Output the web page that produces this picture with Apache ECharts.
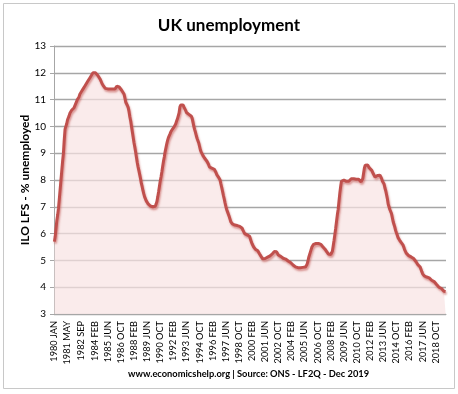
<!DOCTYPE html>
<html>
<head>
<meta charset="utf-8">
<script src="https://cdn.jsdelivr.net/npm/echarts@6/dist/echarts.min.js"></script>
<style>
html,body{margin:0;padding:0;background:#fff;}
#chart{width:458px;height:394px;}
</style>
</head>
<body>
<div id="chart"></div>
<script>
// Month names for category labels (1980 JAN .. 2019 OCT)
var monthNames = ['JAN','FEB','MAR','APR','MAY','JUN','JUL','AUG','SEP','OCT','NOV','DEC'];
var startYear = 1980;

// Unemployment rate (%), monthly, one row per year
var y1980 = [5.7, 5.9, 6.2, 6.5, 6.7, 6.95, 7.3, 7.65, 8.0, 8.35, 8.7, 9.0];
var y1981 = [9.5, 9.9, 10.0, 10.1, 10.25, 10.3, 10.4, 10.5, 10.55, 10.6, 10.6, 10.65];
var y1982 = [10.7, 10.75, 10.85, 10.9, 11.0, 11.05, 11.1, 11.2, 11.25, 11.3, 11.35, 11.4];
var y1983 = [11.45, 11.5, 11.55, 11.6, 11.65, 11.7, 11.75, 11.8, 11.85, 11.9, 11.95, 12.0];
var y1984 = [12.05, 12.05, 12.0, 11.98, 11.95, 11.9, 11.88, 11.85, 11.75, 11.7, 11.6, 11.55];
var y1985 = [11.5, 11.45, 11.42, 11.4, 11.4, 11.4, 11.4, 11.4, 11.4, 11.42, 11.4, 11.4];
var y1986 = [11.4, 11.42, 11.4, 11.45, 11.5, 11.55, 11.52, 11.47, 11.45, 11.4, 11.35, 11.3];
var y1987 = [11.28, 11.2, 11.05, 10.9, 10.85, 10.78, 10.7, 10.55, 10.35, 10.2, 10.0, 9.8];
var y1988 = [9.6, 9.4, 9.23, 9.05, 8.85, 8.65, 8.49, 8.35, 8.2, 8.05, 7.87, 7.75];
var y1989 = [7.6, 7.48, 7.37, 7.3, 7.22, 7.17, 7.12, 7.08, 7.05, 7.03, 7.0, 7.0];
var y1990 = [7.0, 7.0, 7.0, 7.02, 7.1, 7.2, 7.37, 7.55, 7.75, 7.95, 8.11, 8.3];
var y1991 = [8.5, 8.7, 8.86, 9.05, 9.2, 9.35, 9.48, 9.58, 9.65, 9.72, 9.8, 9.85];
var y1992 = [9.9, 9.95, 9.98, 10.0, 10.1, 10.2, 10.28, 10.35, 10.5, 10.72, 10.8, 10.85];
var y1993 = [10.85, 10.8, 10.72, 10.66, 10.6, 10.52, 10.48, 10.48, 10.45, 10.42, 10.41, 10.38];
var y1994 = [10.3, 10.15, 10.0, 9.88, 9.78, 9.65, 9.55, 9.48, 9.38, 9.25, 9.12, 9.04];
var y1995 = [8.98, 8.92, 8.88, 8.82, 8.78, 8.75, 8.7, 8.65, 8.58, 8.49, 8.45, 8.45];
var y1996 = [8.44, 8.43, 8.43, 8.4, 8.35, 8.28, 8.2, 8.15, 8.11, 8.05, 8.0, 7.85];
var y1997 = [7.72, 7.58, 7.43, 7.3, 7.15, 7.02, 6.9, 6.82, 6.75, 6.65, 6.55, 6.45];
var y1998 = [6.4, 6.36, 6.34, 6.32, 6.32, 6.33, 6.32, 6.3, 6.3, 6.28, 6.27, 6.25];
var y1999 = [6.25, 6.2, 6.12, 6.05, 6.0, 5.98, 5.96, 5.95, 5.94, 5.94, 5.9, 5.8];
var y2000 = [5.7, 5.62, 5.56, 5.5, 5.45, 5.42, 5.4, 5.38, 5.36, 5.3, 5.25, 5.2];
var y2001 = [5.15, 5.1, 5.06, 5.04, 5.05, 5.07, 5.08, 5.1, 5.12, 5.13, 5.15, 5.17];
var y2002 = [5.2, 5.22, 5.25, 5.28, 5.33, 5.36, 5.38, 5.32, 5.25, 5.2, 5.19, 5.17];
var y2003 = [5.15, 5.12, 5.1, 5.08, 5.07, 5.07, 5.05, 5.03, 5.0, 4.98, 4.96, 4.94];
var y2004 = [4.92, 4.9, 4.86, 4.83, 4.8, 4.78, 4.76, 4.75, 4.74, 4.73, 4.73, 4.73];
var y2005 = [4.73, 4.72, 4.73, 4.74, 4.75, 4.76, 4.75, 4.78, 4.85, 4.95, 5.1, 5.2];
var y2006 = [5.3, 5.4, 5.5, 5.55, 5.6, 5.62, 5.62, 5.63, 5.62, 5.62, 5.63, 5.62];
var y2007 = [5.62, 5.6, 5.56, 5.52, 5.48, 5.45, 5.42, 5.38, 5.33, 5.28, 5.24, 5.22];
var y2008 = [5.2, 5.22, 5.25, 5.35, 5.55, 5.75, 5.97, 6.2, 6.45, 6.7, 6.9, 7.2];
var y2009 = [7.5, 7.75, 7.95, 7.98, 8.0, 8.0, 8.0, 7.97, 7.95, 7.95, 7.93, 7.95];
var y2010 = [7.98, 8.02, 8.05, 8.07, 8.07, 8.05, 8.04, 8.05, 8.03, 8.02, 8.03, 8.03];
var y2011 = [8.0, 7.96, 7.93, 7.93, 8.05, 8.25, 8.45, 8.55, 8.61, 8.61, 8.56, 8.5];
var y2012 = [8.45, 8.42, 8.38, 8.36, 8.3, 8.22, 8.15, 8.11, 8.12, 8.15, 8.17, 8.18];
var y2013 = [8.18, 8.18, 8.15, 8.05, 7.95, 7.93, 7.85, 7.7, 7.6, 7.45, 7.3, 7.1];
var y2014 = [7.0, 6.9, 6.9, 6.75, 6.6, 6.45, 6.35, 6.25, 6.12, 6.03, 5.95, 5.85];
var y2015 = [5.81, 5.75, 5.7, 5.66, 5.65, 5.58, 5.5, 5.4, 5.33, 5.27, 5.22, 5.2];
var y2016 = [5.18, 5.15, 5.14, 5.13, 5.13, 5.1, 5.07, 5.05, 5.0, 4.95, 4.9, 4.85];
var y2017 = [4.8, 4.78, 4.75, 4.68, 4.58, 4.5, 4.44, 4.42, 4.4, 4.4, 4.38, 4.38];
var y2018 = [4.38, 4.35, 4.32, 4.28, 4.26, 4.25, 4.22, 4.21, 4.2, 4.15, 4.1, 4.05];
var y2019 = [4.03, 4.0, 3.98, 3.96, 3.95, 3.92, 3.88, 3.85, 3.85, 3.84];

// Tick labels shown on the x axis
var tickLabels = ['1980 JAN','1981 MAY','1982 SEP','1984 FEB','1985 JUN','1986 OCT','1988 FEB',
  '1989 JUN','1990 OCT','1992 FEB','1993 JUN','1994 OCT','1996 FEB','1997 JUN','1998 OCT',
  '2000 FEB','2001 JUN','2002 OCT','2004 FEB','2005 JUN','2006 OCT','2008 FEB','2009 JUN',
  '2010 OCT','2012 FEB','2013 JUN','2014 OCT','2016 FEB','2017 JUN','2018 OCT'];

var yearRows = [y1980,y1981,y1982,y1983,y1984,y1985,y1986,y1987,y1988,y1989,y1990,y1991,y1992,
  y1993,y1994,y1995,y1996,y1997,y1998,y1999,y2000,y2001,y2002,y2003,y2004,y2005,y2006,y2007,
  y2008,y2009,y2010,y2011,y2012,y2013,y2014,y2015,y2016,y2017,y2018,y2019];

var categories = [];
var values = [];
yearRows.forEach(function(row, k){
  row.forEach(function(v, m){
    categories.push((startYear + k) + ' ' + monthNames[m]);
    values.push(v);
  });
});
var tickSet = {};
tickLabels.forEach(function(t){ tickSet[t] = true; });

var chart = echarts.init(document.getElementById('chart'), null, {renderer:'canvas'});
var FONT = 'Lato, "Open Sans", sans-serif';
chart.setOption({
  animation: false,
  backgroundColor: '#ffffff',
  title: {
    text: 'UK unemployment',
    left: 'center',
    top: 12,
    textStyle: {fontFamily: FONT, fontWeight: 'bold', fontSize: 17, color: '#000'}
  },
  graphic: [
    {type:'rect', shape:{x:3.5, y:3.5, width:451, height:385}, style:{fill:'none', stroke:'#c8c8c8', lineWidth:1}, silent:true, z:-1},
    {type:'text', left: 128, top: 369, style:{text:'www.economicshelp.org | Source: ONS - LF2Q - Dec 2019', fontFamily: FONT, fontWeight:'bold', fontSize:9.3, fill:'#000'}}
  ],
  grid: {left: 54, right: 12, top: 46, bottom: 80, containLabel: false},
  xAxis: {
    type: 'category',
    data: categories,
    boundaryGap: true,
    axisLine: {show: true, lineStyle: {color: '#a6a6a6', width: 1}},
    axisTick: {show: false},
    axisLabel: {
      interval: 0,
      rotate: 90,
      fontFamily: FONT,
      fontSize: 9.2,
      color: '#000',
      margin: 7,
      formatter: function(v){ return tickSet[v] ? v : ''; }
    },
    splitLine: {show: false}
  },
  yAxis: {
    type: 'value',
    min: 3,
    max: 13,
    interval: 1,
    name: 'ILO LFS - % unemployed',
    nameLocation: 'middle',
    nameGap: 23,
    nameMoveOverlap: false,
    nameTextStyle: {fontFamily: FONT, fontWeight: 'bold', fontSize: 12, color: '#000'},
    axisLine: {show: true, lineStyle: {color: '#a6a6a6', width: 1}},
    axisTick: {show: true, length: 4, lineStyle: {color: '#a6a6a6'}},
    axisLabel: {fontFamily: FONT, fontSize: 10, color: '#000', margin: 8},
    splitLine: {show: true, lineStyle: {color: '#a6a6a6', width: 1.3}}
  },
  series: [{
    type: 'line',
    data: values,
    symbol: 'none',
    smooth: false,
    lineStyle: {color: '#c0504d', width: 3, shadowColor: 'rgba(192,80,77,0.55)', shadowBlur: 2, shadowOffsetX: 1, shadowOffsetY: 2},
    areaStyle: {color: '#f8e3e2', origin: 'start'},
    z: 3
  }]
});
</script>
</body>
</html>
